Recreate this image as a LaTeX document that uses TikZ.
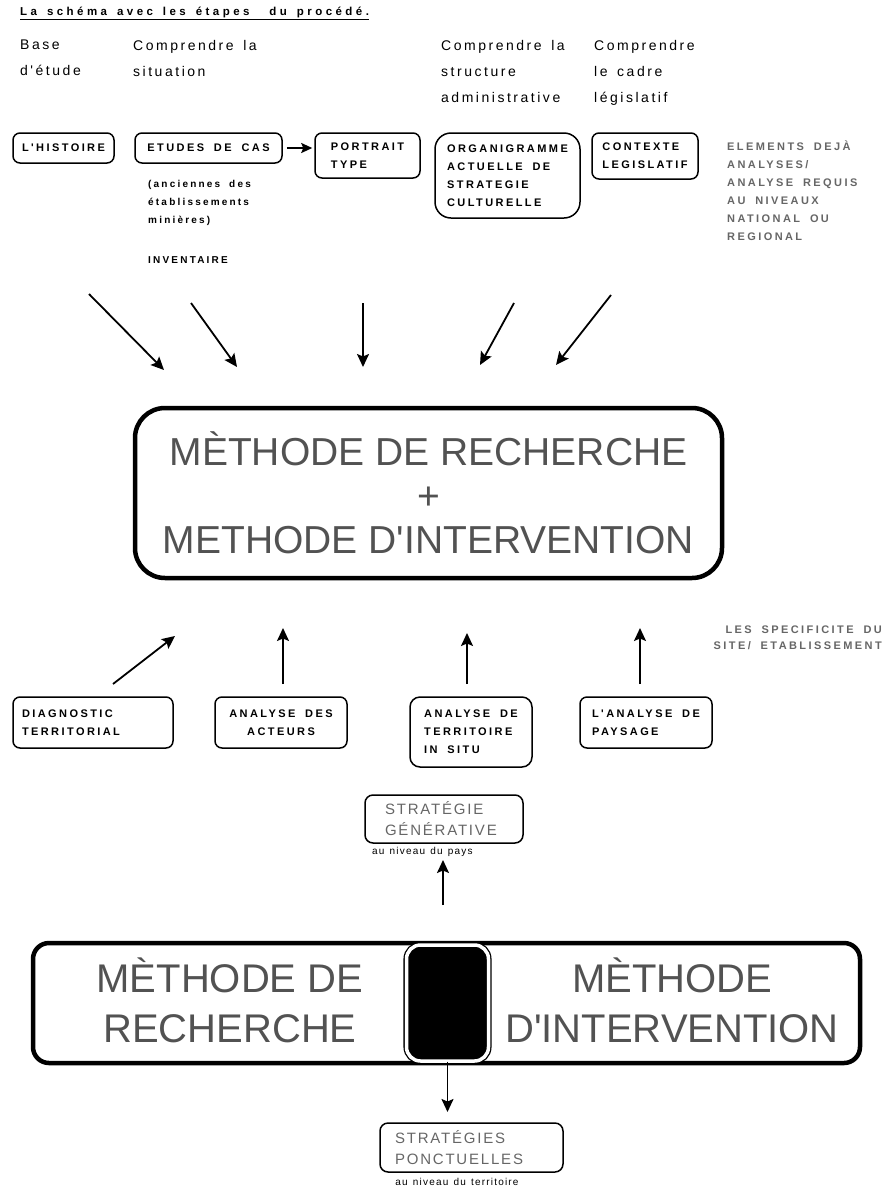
\documentclass[tikz,border=0pt]{standalone}
\usepackage{fontspec}
\setmainfont{Liberation Sans}[Ligatures=TeXOff]
\newfontfamily\largeur[LetterSpace=22,WordSpace=1.8,Ligatures=TeXOff]{Liberation Sans}
\newfontfamily\entetefont[LetterSpace=18,WordSpace=1.5,Ligatures=TeXOff]{Liberation Sans}
\newfontfamily\titrefont[LetterSpace=30,WordSpace=1.5,Ligatures=TeXOff]{Liberation Sans}
\newfontfamily\legendefont[LetterSpace=12,WordSpace=1.3,Ligatures=TeXOff]{Liberation Sans}
\usetikzlibrary{arrows.meta}

\begin{document}
\begin{tikzpicture}[
        x=1pt, y=-1pt,
        >={Stealth[length=13pt,width=12pt,inset=2.5pt]},
        fleche/.style={->, line width=1.8pt},
        etape/.style={draw, line width=1.5pt, rounded corners=7pt, inner sep=0pt,
                      font=\largeur\bfseries\fontsize{11}{18}\selectfont},
        entete/.style={anchor=north west, align=left, inner sep=0pt,
                       font=\entetefont\fontsize{14}{26}\selectfont},
        note/.style={anchor=north west, align=left, inner sep=0pt,
                     font=\largeur\bfseries\fontsize{10}{18}\selectfont},
        gris/.style={text=black!60, font=\largeur\bfseries\fontsize{11}{18}\selectfont},
        gros/.style={text=black!68, inner sep=0pt, align=center,
                     font=\fontsize{39}{50}\selectfont},
        strat/.style={draw, line width=1.5pt, rounded corners=8pt, inner sep=0pt,
                      align=left, text=black!60,
                      font=\legendefont\fontsize{15}{21}\selectfont},
        niveau/.style={inner sep=0pt, font=\legendefont\fontsize{10}{12}\selectfont}
    ]
    \useasboundingbox (0,0) rectangle (887,1189);

    % titre et colonnes
    \node[anchor=west, inner sep=0pt, font=\titrefont\bfseries\fontsize{11.5}{13}\selectfont]
        (titre) at (20,13) {\underline{La schéma avec les étapes\ \ du procédé.}};
    \node[entete] (base) at (20,40) {Base\\d'étude};
    \node[entete] (situation) at (133,40) {Comprendre la\\situation};
    \node[entete] (structure) at (441,40) {Comprendre la\\structure\\administrative};
    \node[entete] (cadre) at (594,40) {Comprendre\\le cadre\\législatif};

    % premiere rangee
    \node[etape, minimum width=101, minimum height=30] (hist) at (63.5,148) {L'HISTOIRE};
    \node[etape, minimum width=147, minimum height=30] (etudes) at (208.5,148) {ETUDES DE CAS};
    \node[etape, minimum width=105, minimum height=45, align=left] (portrait)
        at (367.5,155.5) {PORTRAIT\\TYPE};
    \node[etape, rounded corners=16pt, minimum width=145, minimum height=85, align=left]
        (organi) at (507.5,175.5) {ORGANIGRAMME\\ACTUELLE DE\\STRATEGIE\\CULTURELLE};
    \node[etape, minimum width=106, minimum height=46, align=left] (contexte)
        at (645,156) {CONTEXTE\\LEGISLATIF};
    \node[note, gris] (elements) at (727,141)
        {ELEMENTS DEJÀ\\ANALYSES/\\ANALYSE REQUIS\\AU NIVEAUX\\NATIONAL OU\\REGIONAL};
    \node[note] (anciennes) at (148,180) {(anciennes des\\établissements\\minières)};
    \node[note] (inventaire) at (148,256) {INVENTAIRE};

    \draw[->, line width=1.8pt, >={Stealth[length=11pt,width=10pt,inset=2pt]}, shorten <=4pt, shorten >=2pt]
        (etudes.east) -- (etudes.east -| portrait.west);

    % fleches vers la methode
    \coordinate (h1) at (89,294);   \coordinate (p1) at (164,370);
    \coordinate (h2) at (191,303);  \coordinate (p2) at (237,367);
    \coordinate (h3) at (363,303);  \coordinate (p3) at (363,367);
    \coordinate (h4) at (514,303);  \coordinate (p4) at (480,365);
    \coordinate (h5) at (611,295);  \coordinate (p5) at (556,365);
    \foreach \i in {1,...,5}
        \draw[fleche] (h\i) -- (p\i);

    \node[draw, line width=4.5pt, rounded corners=30pt, minimum width=587, minimum height=170,
          gros] (methode) at (428.5,493)
        {MÈTHODE DE RECHERCHE\\[-6pt]+\\[-6pt]METHODE D'INTERVENTION};

    % deuxieme rangee
    \node[etape, minimum height=51, align=left, text width=142, inner xsep=9] (diag)
        at (93,722.5) {DIAGNOSTIC\\TERRITORIAL};
    \node[etape, minimum width=132, minimum height=51, align=center] (acteurs)
        at (281,722.5) {ANALYSE DES\\ACTEURS};
    \node[etape, rounded corners=10pt, minimum width=122, minimum height=70, align=left]
        (insitu) at (471,732) {ANALYSE DE\\TERRITOIRE\\IN SITU};
    \node[etape, minimum width=132, minimum height=51, align=left] (paysage)
        at (646,722.5) {L'ANALYSE DE\\PAYSAGE};
    \node[anchor=north east, align=right, inner sep=0pt, gris,
          font=\largeur\bfseries\fontsize{11}{16}\selectfont] (specif) at (882,626)
        {LES SPECIFICITE DU\\SITE/ ETABLISSEMENT};

    \coordinate (b1) at (113,684);  \coordinate (q1) at (175,636);
    \coordinate (b2) at (283,684);  \coordinate (q2) at (283,628);
    \coordinate (b3) at (467,684);  \coordinate (q3) at (467,633);
    \coordinate (b4) at (640,684);  \coordinate (q4) at (640,628);
    \foreach \i in {1,...,4}
        \draw[fleche] (b\i) -- (q\i);

    % strategies
    \node[strat, minimum height=48, text width=118, inner xsep=20] (generative)
        at (444,819) {STRATÉGIE\\GÉNÉRATIVE};
    \node[niveau, anchor=north west] (pays) at (372,847) {au niveau du pays};
    \coordinate (g1) at (443,905);  \coordinate (g2) at (443,860);
    \draw[fleche] (g1) -- (g2);

    \node[draw, line width=4.5pt, rounded corners=16pt, minimum width=827, minimum height=120]
        (binome) at (446.5,1003) {};
    \node[gros, font=\fontsize{40}{50}\selectfont] (recherche) at (230,1000) {MÈTHODE DE\\RECHERCHE};
    \node[gros, font=\fontsize{40}{50}\selectfont] (intervention) at (672,1000) {MÈTHODE\\D'INTERVENTION};
    \node[draw, line width=1.3pt, double=white, double distance=3.5pt, fill=black,
          rounded corners=14pt, minimum width=82, minimum height=116] (noyau) at (447.5,1003) {};

    \coordinate (s1) at (447.5,1112);
    \draw[fleche] (noyau) -- (s1);

    \node[strat, minimum height=49, text width=153, inner xsep=15] (ponctuelles)
        at (471.5,1147.5) {STRATÉGIES\\PONCTUELLES};
    \node[niveau] (territoire) at (457,1182) {au niveau du territoire};
\end{tikzpicture}
\end{document}
